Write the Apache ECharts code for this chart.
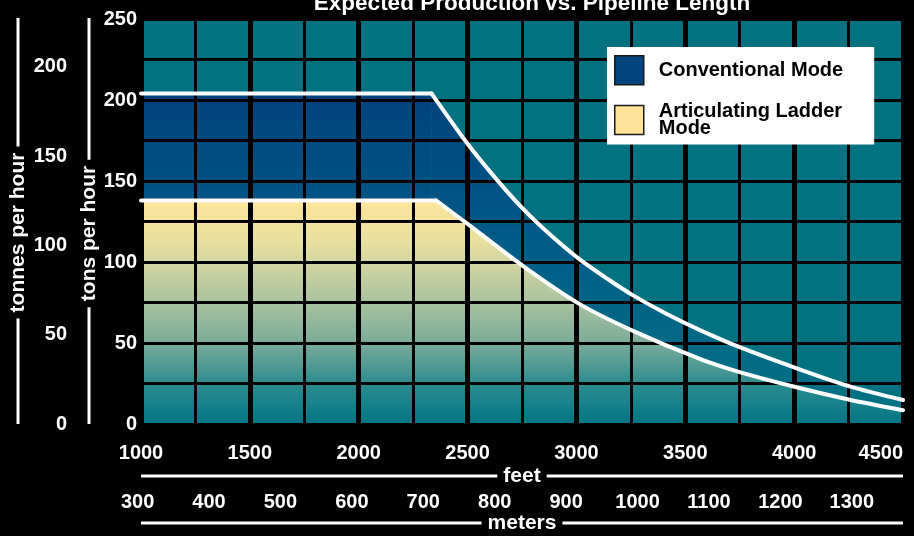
<!DOCTYPE html>
<html>
<head>
<meta charset="utf-8">
<script src="https://cdn.jsdelivr.net/npm/echarts@6/dist/echarts.min.js"></script>
<style>
html,body{margin:0;padding:0;background:#000;}
#chart{width:914px;height:536px;}
</style>
</head>
<body>
<div id="chart"></div>
<script>
// ---- data ----
const titleText = 'Expected Production vs. Pipeline Length';
const seriesNames = ['Conventional Mode', 'Articulating Ladder Mode'];

const convFlatFeet = [1000, 2335];
const convFlatTons = [204, 204];
const convCurveFeet = [2335, 2500, 2635, 2755, 2880, 3015, 3140, 3260, 3415, 3570, 3750, 4015, 4255, 4500];
const convCurveTons = [204, 173, 150.7, 132.8, 116.8, 101.6, 89.8, 79.4, 67.9, 57.8, 47.4, 34.2, 23.2, 14.8];

const artFlatFeet = [1000, 2355];
const artFlatTons = [138, 138];
const artCurveFeet = [2355, 2500, 2755, 3015, 3260, 3570, 3750, 4015, 4255, 4500];
const artCurveTons = [138, 123.5, 97.5, 74, 57.5, 40, 32, 22.5, 15, 8.5];

const feetRange = [1000, 4500];
const tonsRange = [0, 250];
const FT_PER_M = 3.28084;
const TONNE_PER_TON = 0.907185;

// ---- styling ----
const NUM_FONT = "'Liberation Sans', Arial, sans-serif";
const TXT_FONT = "'Liberation Sans', Arial, sans-serif";
const TEAL = '#027280';
const convGrad = {type:'linear',x:0,y:0,x2:0,y2:1,colorStops:[
  {offset:0,color:'#00427c'},{offset:0.5,color:'#005e88'},{offset:1,color:'#037482'}]};
const artGrad = {type:'linear',x:0,y:0,x2:0,y2:1,colorStops:[
  {offset:0,color:'#fde49a'},{offset:0.18,color:'#e8e0a0'},{offset:0.27,color:'#d5d6a1'},
  {offset:0.45,color:'#aac39f'},{offset:0.64,color:'#7aab99'},{offset:0.82,color:'#2c8c8e'},
  {offset:1,color:'#027585'}]};

const zip = (xs, ys) => xs.map((x, i) => [x, ys[i]]);

function areaSeries(name, data, grad, smooth, z) {
  return {type:'line', name, data, smooth, xAxisIndex:0, yAxisIndex:0, symbol:'none', z,
    lineStyle:{width:0}, areaStyle:{color:grad, opacity:1, origin:'start'}, silent:true};
}
function lineSeries(name, data, smooth) {
  return {type:'line', name, data, smooth, xAxisIndex:0, yAxisIndex:0, symbol:'none', z:6,
    lineStyle:{color:'#ffffff', width:4, cap:'round', join:'round'}, silent:true};
}

const chart = echarts.init(document.getElementById('chart'), null, {renderer:'canvas'});

const W = 914, H = 536;
const gridL = 141, gridR = 11, gridT = 19, gridB = 112;
const plotRight = W - gridR, plotBottom = H - gridB;
const plotW = W - gridL - gridR;
const pxPerFt = plotW / (feetRange[1] - feetRange[0]);
const mMin = 300, mMax = feetRange[1] / FT_PER_M;
const meterGridL = gridL - (feetRange[0] / FT_PER_M - mMin) * FT_PER_M * pxPerFt;
const tonsOffset = 52, tonnesOffset = 123, feetOffset = 52, metersOffset = 99;

const plain = v => String(v);
const numLabel = {color:'#fff', fontFamily:NUM_FONT, fontWeight:'bold', fontSize:20, formatter:plain};
const nameStyle = (extraW) => ({
  color:'#fff', verticalAlign:'middle', align:'center',
  rich:{
    t:{color:'#fff', fontFamily:TXT_FONT, fontWeight:'bold', fontSize:21, backgroundColor:'#000', padding:[1,6]},
    s:{width:extraW}
  }
});
const titleAxis = (offset, name) => ({type:'value', gridIndex:0, min:feetRange[0], max:feetRange[1], position:'bottom', offset, z:3,
  axisLine:{show:false, onZero:false}, axisTick:{show:false}, axisLabel:{show:false}, splitLine:{show:false},
  name:'{t|' + name + '}', nameLocation:'middle', nameGap:0, nameMoveOverlap:false, nameTextStyle:nameStyle(0)});

const whiteLine = (x1, y1, x2, y2) => ({type:'line', z:0, silent:true,
  shape:{x1, y1, x2, y2}, style:{stroke:'#fff', lineWidth:3}});

chart.setOption({
  backgroundColor:'#000',
  animation:false,
  title:{text:titleText, left:527, top:-12, textAlign:'center',
    textStyle:{color:'#fff', fontFamily:TXT_FONT, fontWeight:'bold', fontSize:22.5, lineHeight:22}},
  graphic:[
    whiteLine(gridL, plotBottom + feetOffset, plotRight, plotBottom + feetOffset),
    whiteLine(gridL, plotBottom + metersOffset, plotRight, plotBottom + metersOffset),
    whiteLine(gridL - tonsOffset, gridT - 1, gridL - tonsOffset, plotBottom),
    whiteLine(gridL - tonnesOffset, gridT - 1, gridL - tonnesOffset, plotBottom)
  ],
  legend:{
    left:607, top:47, orient:'vertical', icon:'rect', itemWidth:29, itemHeight:29, itemGap:16,
    padding:[8,31,6,7], backgroundColor:'#fff', selectedMode:false,
    data:[
      {name:seriesNames[0], itemStyle:{color:'#00457e', borderColor:'#1a1a1a', borderWidth:1.5}},
      {name:seriesNames[1], itemStyle:{color:'#fde49a', borderColor:'#1a1a1a', borderWidth:1.5}}
    ],
    formatter: n => n === seriesNames[1] ? 'Articulating Ladder\nMode' : n,
    textStyle:{color:'#000', fontFamily:TXT_FONT, fontWeight:'bold', fontSize:20, lineHeight:17, padding:[0,0,0,10]}
  },
  grid:[
    {left:gridL, right:gridR, top:gridT, bottom:gridB, show:true, backgroundColor:TEAL, borderWidth:0, outerBoundsMode:'none'},
    {left:meterGridL, right:gridR, top:gridT, bottom:gridB, show:false, outerBoundsMode:'none'}
  ],
  xAxis:[
    {type:'value', gridIndex:0, min:feetRange[0], max:feetRange[1], interval:500, position:'bottom', z:3,
      axisLine:{show:false, onZero:false}, axisTick:{show:false},
      axisLabel:{...numLabel, margin:19, alignMaxLabel:'right'},
      splitLine:{show:true, lineStyle:{color:'#000', width:5}}},
    {type:'value', gridIndex:0, min:feetRange[0], max:feetRange[1], interval:250, position:'bottom', z:3,
      axisLine:{show:false, onZero:false}, axisTick:{show:false}, axisLabel:{show:false},
      splitLine:{show:true, lineStyle:{color:'#000', width:3}}},
    {type:'value', gridIndex:1, min:mMin, max:mMax, interval:100, position:'bottom',
      axisLine:{show:false, onZero:false}, axisTick:{show:false}, splitLine:{show:false},
      axisLabel:{...numLabel, margin:68, showMaxLabel:false}},
    titleAxis(feetOffset, 'feet'),
    titleAxis(metersOffset, 'meters')
  ],
  yAxis:[
    {type:'value', gridIndex:0, min:tonsRange[0], max:tonsRange[1], interval:50, position:'left', offset:tonsOffset, z:3,
      axisLine:{show:false, onZero:false}, axisTick:{show:false}, splitLine:{show:false},
      axisLabel:{...numLabel, inside:true, align:'right', margin:48},
      name:'{t|tons per hour}{s|}', nameLocation:'middle', nameGap:0, nameRotate:90, nameMoveOverlap:false, nameTextStyle:nameStyle(24)},
    {type:'value', gridIndex:0, min:tonsRange[0]*TONNE_PER_TON, max:tonsRange[1]*TONNE_PER_TON, interval:50, position:'left', offset:tonnesOffset, z:3,
      axisLine:{show:false, onZero:false}, axisTick:{show:false}, splitLine:{show:false},
      axisLabel:{...numLabel, inside:true, align:'right', margin:49, showMaxLabel:false},
      name:'{t|tonnes per hour}{s|}', nameLocation:'middle', nameGap:0, nameRotate:90, nameMoveOverlap:false, nameTextStyle:nameStyle(22)},
    {type:'value', gridIndex:0, min:tonsRange[0], max:tonsRange[1], interval:25, position:'left', z:3,
      axisLine:{show:false, onZero:false}, axisTick:{show:false}, axisLabel:{show:false},
      splitLine:{show:true, lineStyle:{color:'#000', width:3}}},
    {type:'value', gridIndex:1, min:0, max:1, show:false}
  ],
  series:[
    areaSeries(seriesNames[0], zip(convFlatFeet, convFlatTons), convGrad, false, 1),
    areaSeries(seriesNames[0], zip(convCurveFeet, convCurveTons), convGrad, 0.3, 1),
    areaSeries(seriesNames[1], zip(artFlatFeet, artFlatTons), artGrad, false, 1),
    areaSeries(seriesNames[1], zip(artCurveFeet, artCurveTons), artGrad, 0.3, 1),
    lineSeries('conv-line', zip(convFlatFeet, convFlatTons), false),
    lineSeries('conv-line', zip(convCurveFeet, convCurveTons), 0.3),
    lineSeries('art-line', zip(artFlatFeet, artFlatTons), false),
    lineSeries('art-line', zip(artCurveFeet, artCurveTons), 0.3)
  ]
});
</script>
</body>
</html>
